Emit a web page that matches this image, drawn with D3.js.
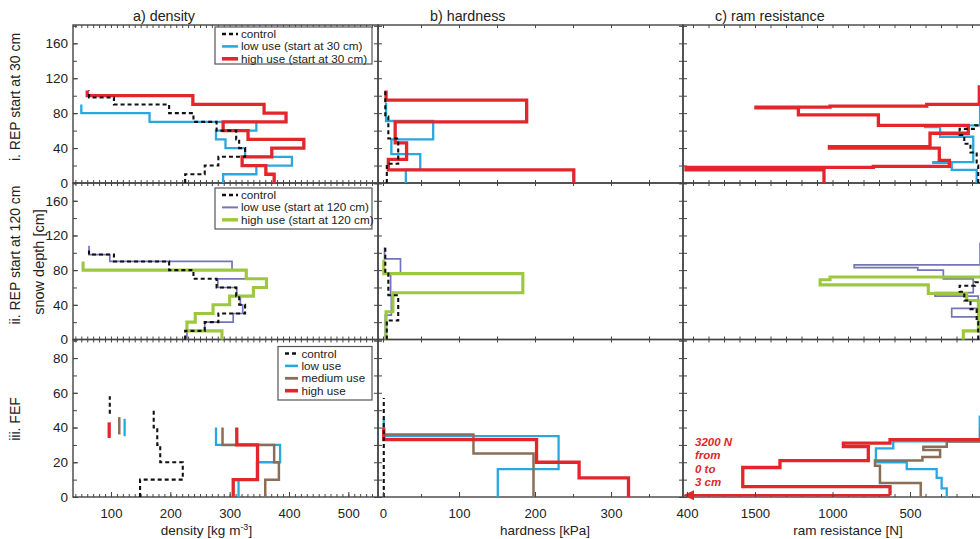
<!DOCTYPE html>
<html>
<head>
<meta charset="utf-8">
<script src="https://cdn.jsdelivr.net/npm/d3@7"></script>
<style>
  body { margin: 0; background: #fff; }
  svg { display: block; }
  text { font-family: "Liberation Sans", Arial, Helvetica, sans-serif; fill: #222; }
</style>
</head>
<body>
<svg id="svg" width="980" height="539"></svg>
<script>
// snow profiles, each layer = [bottom cm, top cm, value]
var controlDensity = [[0,10,225],[10,20,258],[20,30,281],[30,40,326],[40,50,316],[50,60,311],[60,70,278],[70,80,239],[80,90,198],[90,98,105],[98,106,63]];
var lowDensity30 = [[0,10,289],[10,20,345],[20,30,405],[30,40,326],[40,50,293],[50,60,277],[60,70,345],[70,80,165],[80,90,50]];
var highDensity30 = [[0,10,375],[10,20,361],[20,30,321],[30,40,371],[40,50,425],[50,60,331],[60,70,289],[70,80,395],[80,90,358],[90,100,238],[100,106,60]];
var lowDensity120 = [[0,10,228],[10,20,258],[20,30,306],[30,40,322],[40,50,318],[50,60,312],[60,70,280],[70,80,328],[80,90,304],[90,98,98],[98,108,63]];
var highDensity120 = [[0,10,287],[10,20,228],[20,30,242],[30,40,272],[40,50,300],[50,60,340],[60,70,362],[70,80,328],[80,90,53]];

var controlHardness = [[0,22,5],[22,51,20],[51,76,7],[76,107,3]];
var lowHardness30 = [[0,15,30],[15,33,49],[33,50,11],[50,71,66],[71,92,4]];
var highHardness30 = [[0,15,251],[15,27,7],[27,46,31],[46,70,16],[70,95,189],[95,106,4]];
var lowHardness120 = [[0,28,3],[28,51,11],[51,77,10],[77,93,23],[93,106,2]];
var highHardness120 = [[0,32,4],[32,54,13],[54,76,184],[76,92,1]];

var controlRam = [[0,20,60],[20,35,70],[35,45,110],[45,55,150],[55,62,180],[62,66,80],[66,100,40]];
var lowRam30 = [[0,15,70],[15,23,231],[23,24,350],[24,53,92],[53,64,306],[64,66,403],[66,90,48]];
var highRam30 = [[0,15,1055],[15,18,1945],[18,19,737],[19,26,246],[26,40,311],[40,41.5,1020],[41.5,57,371],[57,66,124],[66,78,704],[78,86,1220],[86,87,1494],[87,88,1016],[88,90,392],[90,112,53]];
var lowRam120 = [[0,26,45],[26,36,231],[36,50,60],[50,54,339],[54,70,92],[70,80,285],[80,83,450],[83,86,860],[86,112,48]];
var highRam120 = [[0,10,156],[10,45,59],[45,53,134],[53,63,382],[63,69,1080],[69,72,1016],[72,90,40]];

// FEF site
var fefControlDensity = [[0,10,149],[10,20,221],[20,30,183],[30,40,178],[40,50,172]];
var fefLowDensity = [[0,10,315],[10,20,346],[20,30,385],[30,40,277]];
var fefMediumDensity = [[0,10,360],[10,20,383],[20,30,375],[30,40,288]];
var fefHighDensity = [[0,10,306],[10,30,347],[30,40,312]];
var fefControlDensityTop = [[48,58,98]];
var fefLowDensityTop = [[35,45,123]];
var fefMediumDensityTop = [[36,46,114]];
var fefHighDensityTop = [[34,43,97]];

var fefControlHardness = [[0,57,1]];
var fefLowHardness = [[0,16,151],[16,35,231],[35,45,1]];
var fefMediumHardness = [[0,25,198],[25,36,119],[36,40,1]];
var fefHighHardness = [[0,11,323],[11,20,258],[20,33,202],[33,40,1]];

var fefControlRam = [[0,57,15]];
var fefLowRam = [[0,5,263],[5,11,296],[11,16,328],[16,20,521],[20,28,720],[28,32,608],[32,47,50]];
var fefMediumRam = [[0,8,431],[8,18,694],[18,21,726],[21,23,420],[23,27,306],[27,29,414],[29,32,263],[32,37,40]];
var fefHighRam = [[1,6,629],[6,17,1579],[17,21,1339],[21,29,769],[29,31,930],[31,33,629],[33,40,40]];
var fefHighRamArrow = [1, 629, 1964]; // depth, from N, to N (3200 N off scale)

// axes
var densityDomain = [36, 550];
var hardnessDomain = [-6.6, 394.7];
var ramDomain = [1964.5, -16];
var densityTickLabels = [100, 200, 300, 400, 500];
var hardnessTickLabels = [0, 100, 200, 300, 400];
var ramTickLabels = [1500, 1000, 500];
var depthTickLabels = [0, 40, 80, 120, 160];
var fefDepthTickLabels = [0, 20, 40, 60, 80];

var colTitles = ['a) density', 'b) hardness', 'c) ram resistance'];
var rowTitles = ['i. REP start at 30 cm', 'ii. REP start at 120 cm', 'iii. FEF'];
var legend30 = ['control', 'low use (start at 30 cm)', 'high use (start at 30 cm)'];
var legend120 = ['control', 'low use (start at 120 cm)', 'high use (start at 120 cm)'];
var legendFef = ['control', 'low use', 'medium use', 'high use'];
var arrowNote = ['3200 N', 'from', '0 to', '3 cm'];

(function () {
    'use strict';

    var svg = d3.select('#svg');

    var styles = {
        control: { stroke: '#111', width: 2.1, dash: '4,3' },
        low:     { stroke: '#29a8df', width: 2.3 },
        high:    { stroke: '#e2262b', width: 3.3 },
        low120:  { stroke: '#7474b9', width: 1.7 },
        high120: { stroke: '#9dc73f', width: 3.1 },
        medium:  { stroke: '#8b6e57', width: 2.5 }
    };

    var xScales = [
        d3.scaleLinear().domain(densityDomain).range([73, 378]),
        d3.scaleLinear().domain(hardnessDomain).range([378, 683]),
        d3.scaleLinear().domain(ramDomain).range([683, 990])
    ];
    var yScales = [
        d3.scaleLinear().domain([0, 181]).range([183, 25]),
        d3.scaleLinear().domain([0, 180.5]).range([339.5, 183]),
        d3.scaleLinear().domain([0, 90.7]).range([497, 339.5])
    ];
    var xMinor = [d3.range(40, 551, 10), d3.range(0, 400, 50), d3.range(0, 1964, 100)];
    var yMinor = [d3.range(0, 181, 20), d3.range(0, 181, 20), d3.range(0, 91, 10)];

    var panels = [
        { r: 0, c: 0, s: [[lowDensity30, 'low'], [highDensity30, 'high'], [controlDensity, 'control']] },
        { r: 0, c: 1, s: [[lowHardness30, 'low'], [highHardness30, 'high'], [controlHardness, 'control']] },
        { r: 0, c: 2, s: [[lowRam30, 'low'], [highRam30, 'high'], [controlRam, 'control']] },
        { r: 1, c: 0, s: [[lowDensity120, 'low120'], [highDensity120, 'high120'], [controlDensity, 'control']] },
        { r: 1, c: 1, s: [[lowHardness120, 'low120'], [highHardness120, 'high120'], [controlHardness, 'control']] },
        { r: 1, c: 2, s: [[lowRam120, 'low120'], [highRam120, 'high120'], [controlRam, 'control']] },
        { r: 2, c: 0, s: [[fefLowDensity, 'low'], [fefMediumDensity, 'medium'], [fefHighDensity, 'high'], [fefControlDensity, 'control'],
                          [fefLowDensityTop, 'low'], [fefMediumDensityTop, 'medium'], [fefHighDensityTop, 'high'], [fefControlDensityTop, 'control']] },
        { r: 2, c: 1, s: [[fefLowHardness, 'low'], [fefMediumHardness, 'medium'], [fefHighHardness, 'high'], [fefControlHardness, 'control']] },
        { r: 2, c: 2, s: [[fefLowRam, 'low'], [fefMediumRam, 'medium'], [fefHighRam, 'high'], [fefControlRam, 'control']] }
    ];

    // layers -> step points (vertical inside a layer, horizontal between layers)
    function steps(layers) {
        var pts = [];
        layers.forEach(function (l) {
            pts.push([l[2], l[0]], [l[2], l[1]]);
        });
        return pts;
    }

    function cleanAxis(g, size) {
        g.select('.domain').remove();
        g.selectAll('line').attr('stroke', '#444').attr('stroke-width', 1);
        g.selectAll('text').style('font-size', size + 'px')
            .style('font-family', '"Liberation Sans", Arial, sans-serif').attr('fill', '#222');
    }

    var frames = svg.append('g');
    var marks = svg.append('g');

    panels.forEach(function (p) {
        var x = xScales[p.c], y = yScales[p.r];
        var x0 = x.range()[0], x1 = x.range()[1], y0 = y.range()[1], y1 = y.range()[0];

        // inward ticks on all four sides
        frames.append('g').attr('transform', 'translate(0,' + y1 + ')')
            .call(d3.axisBottom(x).tickValues(xMinor[p.c]).tickSize(-3).tickFormat(''))
            .call(cleanAxis, 10);
        frames.append('g').attr('transform', 'translate(0,' + y0 + ')')
            .call(d3.axisTop(x).tickValues(xMinor[p.c]).tickSize(-3).tickFormat(''))
            .call(cleanAxis, 10);
        frames.append('g').attr('transform', 'translate(' + x0 + ',0)')
            .call(d3.axisLeft(y).tickValues(yMinor[p.r]).tickSize(-4).tickFormat(''))
            .call(cleanAxis, 10);
        frames.append('g').attr('transform', 'translate(' + x1 + ',0)')
            .call(d3.axisRight(y).tickValues(yMinor[p.r]).tickSize(-4).tickFormat(''))
            .call(cleanAxis, 10);

        var line = d3.line()
            .x(function (d) { return x(d[0]); })
            .y(function (d) { return y(d[1]); });

        p.s.forEach(function (s) {
            var st = styles[s[1]];
            marks.append('path')
                .attr('d', line(steps(s[0])))
                .attr('fill', 'none')
                .attr('stroke', st.stroke)
                .attr('stroke-width', st.width)
                .attr('stroke-dasharray', st.dash || null)
                .attr('stroke-linejoin', 'miter');
        });
    });

    // panel frames
    panels.forEach(function (p) {
        var x = xScales[p.c], y = yScales[p.r];
        frames.append('rect')
            .attr('x', x.range()[0]).attr('y', y.range()[1])
            .attr('width', x.range()[1] - x.range()[0])
            .attr('height', y.range()[0] - y.range()[1])
            .attr('fill', 'none').attr('stroke', '#444').attr('stroke-width', 1.4);
    });

    // bottom tick labels
    var xLabels = [densityTickLabels, hardnessTickLabels, ramTickLabels];
    xScales.forEach(function (x, i) {
        svg.append('g').attr('transform', 'translate(0,497)')
            .call(d3.axisBottom(x).tickValues(xLabels[i]).tickFormat(d3.format('d'))
                .tickSize(-5).tickPadding(12))
            .call(cleanAxis, 13.2);
    });

    // left tick labels
    var yLabels = [depthTickLabels, depthTickLabels, fefDepthTickLabels];
    yScales.forEach(function (y, i) {
        svg.append('g').attr('transform', 'translate(73,0)')
            .call(d3.axisLeft(y).tickValues(yLabels[i]).tickSize(-5).tickPadding(5))
            .call(cleanAxis, 13.5);
    });

    // arrow for the 3200 N layer
    var xr = xScales[2], yf = yScales[2];
    var ay = yf(fefHighRamArrow[0]);
    marks.append('line')
        .attr('x1', xr(fefHighRamArrow[1])).attr('x2', xr(fefHighRamArrow[2]) + 9)
        .attr('y1', ay).attr('y2', ay)
        .attr('stroke', styles.high.stroke).attr('stroke-width', 2.6);
    var tip = xr(fefHighRamArrow[2]);
    marks.append('path')
        .attr('d', 'M' + tip + ',' + ay + 'L' + (tip + 11) + ',' + (ay - 5) + 'L' + (tip + 11) + ',' + (ay + 5) + 'Z')
        .attr('fill', styles.high.stroke);
    arrowNote.forEach(function (t, i) {
        svg.append('text')
            .attr('x', 695).attr('y', 446 + i * 13.3)
            .style('font-size', '11.5px').style('font-weight', 'bold').style('font-style', 'italic')
            .style('fill', styles.high.stroke)
            .text(t);
    });

    // legends
    function legend(labels, keys, box, sx, tx) {
        var g = svg.append('g');
        g.append('rect')
            .attr('x', box[0]).attr('y', box[1])
            .attr('width', box[2] - box[0]).attr('height', box[3] - box[1])
            .attr('fill', '#fff').attr('stroke', '#555').attr('stroke-width', 1.2);
        labels.forEach(function (lab, i) {
            var cy = box[1] + 7 + i * 12.4;
            var st = styles[keys[i]];
            g.append('line')
                .attr('x1', sx[0]).attr('x2', sx[1]).attr('y1', cy).attr('y2', cy)
                .attr('stroke', st.stroke).attr('stroke-width', st.width + 0.3)
                .attr('stroke-dasharray', st.dash || null);
            g.append('text')
                .attr('x', tx).attr('y', cy).attr('dy', '0.35em')
                .style('font-size', '11.7px').text(lab);
        });
    }
    legend(legend30, ['control', 'low', 'high'], [215, 27, 372, 64], [222, 238], 241);
    legend(legend120, ['control', 'low120', 'high120'], [215, 188, 372, 229], [222, 238], 241);
    legend(legendFef, ['control', 'low', 'medium', 'high'], [278, 346.5, 372, 400], [285, 298], 301.5);

    // column titles
    var titleX = [133, 430, 715];
    colTitles.forEach(function (t, i) {
        svg.append('text').attr('x', titleX[i]).attr('y', 20.5)
            .style('font-size', '14.3px').text(t);
    });

    // axis titles
    var dt = svg.append('text').attr('x', 206.5).attr('y', 534.5)
        .attr('text-anchor', 'middle').style('font-size', '13.5px');
    dt.append('tspan').text('density [kg m');
    dt.append('tspan').attr('dy', -5).style('font-size', '9px').text('-3');
    dt.append('tspan').attr('dy', 5).text(']');
    svg.append('text').attr('x', 545).attr('y', 534.5)
        .attr('text-anchor', 'middle').style('font-size', '13.5px').text('hardness [kPa]');
    svg.append('text').attr('x', 848).attr('y', 534.5)
        .attr('text-anchor', 'middle').style('font-size', '13.5px').text('ram resistance [N]');

    // row titles (rotated)
    var rowCy = [97, 255, 419];
    rowTitles.forEach(function (t, i) {
        svg.append('text')
            .attr('transform', 'translate(15,' + rowCy[i] + ') rotate(-90)')
            .attr('text-anchor', 'middle').attr('dy', '0.35em')
            .style('font-size', '14px').text(t);
    });
    svg.append('text')
        .attr('transform', 'translate(38.5,262) rotate(-90)')
        .attr('text-anchor', 'middle').attr('dy', '0.35em')
        .style('font-size', '14.5px').text('snow depth [cm]');
})();
</script>
</body>
</html>
